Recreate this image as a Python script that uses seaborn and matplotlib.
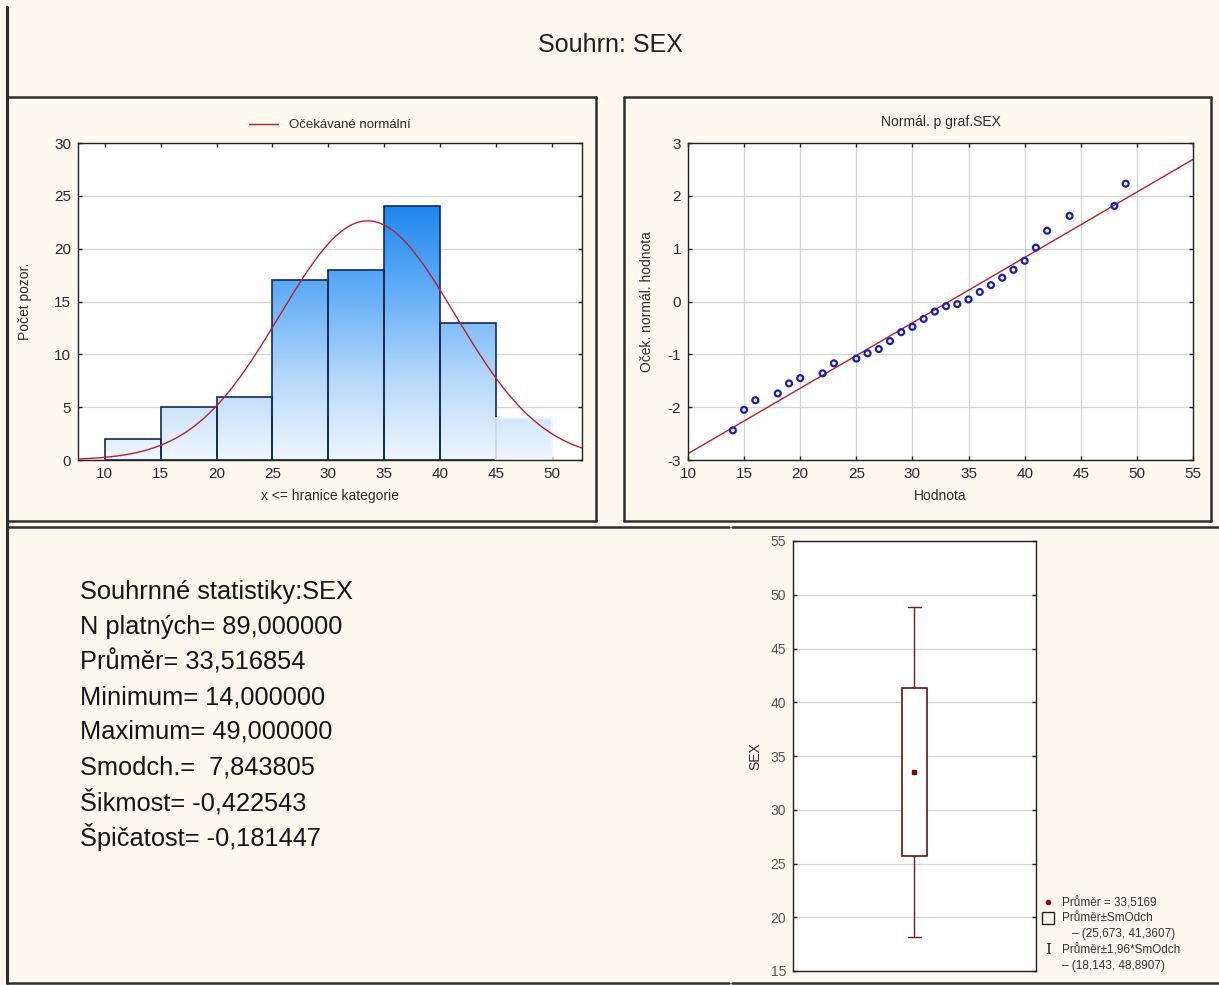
import numpy as np
import pandas as pd
import matplotlib
matplotlib.use("Agg")
import matplotlib.pyplot as plt
import seaborn as sns
from matplotlib.patches import Rectangle
from matplotlib.lines import Line2D
from matplotlib.colors import LinearSegmentedColormap

# ---------------- data ----------------
bin_edges = [10, 15, 20, 25, 30, 35, 40, 45, 50]
bin_counts = [2, 5, 6, 17, 18, 24, 13, 4]

qq_values = [14, 15, 16, 18, 19, 20, 22, 23, 25, 26, 27, 28, 29, 30, 31, 32, 33,
             34, 35, 36, 37, 38, 39, 40, 41, 42, 44, 48, 49]
qq_expected = [-2.44, -2.05, -1.87, -1.74, -1.55, -1.45, -1.36, -1.17, -1.08, -0.98,
               -0.90, -0.75, -0.58, -0.48, -0.33, -0.19, -0.09, -0.05, 0.04, 0.18,
               0.31, 0.45, 0.60, 0.77, 1.02, 1.34, 1.62, 1.81, 2.23]
qq_line_x = [10, 55]
qq_line_y = [-2.88, 2.69]

stat_labels = ["N platných", "Průměr", "Minimum", "Maximum", "Smodch.", "Šikmost", "Špičatost"]
stat_values = [89.0, 33.516854, 14.0, 49.0, 7.843805, -0.422543, -0.181447]

box_mean = 33.5169
box_lo, box_hi = 25.673, 41.3607
whisk_lo, whisk_hi = 18.143, 48.8907

# ---------------- style ----------------
sns.set_style("white")
plt.rcParams['font.family'] = ['Liberation Sans', 'DejaVu Sans']
plt.rcParams['axes.unicode_minus'] = False
BG = '#fdf9ee'
W, H = 1219, 985
fig = plt.figure(figsize=(W / 100, H / 100), dpi=100, facecolor=BG)


def axes_px(l, t, r, b):
    return fig.add_axes([l / W, 1 - b / H, (r - l) / W, (b - t) / H])


def fx(x):
    return x / W


def fy(y):
    return 1 - y / H


def hline(x0, x1, y, lw=1.8):
    fig.add_artist(Line2D([fx(x0), fx(x1)], [fy(y), fy(y)], transform=fig.transFigure,
                          color='#2e2e2e', lw=lw))


def vline(x, y0, y1, lw=1.8):
    fig.add_artist(Line2D([fx(x), fx(x)], [fy(y0), fy(y1)], transform=fig.transFigure,
                          color='#2e2e2e', lw=lw))


# panel frames
vline(7, 7, 983, lw=2.2)
for (l, t, r, b) in [(7, 97, 596, 521), (624, 97, 1211, 521)]:
    hline(l, r, t); hline(l, r, b); vline(l, t, b); vline(r, t, b)
hline(7, 729, 527); hline(7, 729, 983)
hline(732, 1219, 527); hline(732, 1219, 983)

fig.text(610 / W, fy(45), "Souhrn: SEX", ha='center', va='center', fontsize=18, color='#202020')

TICK_FS = 11
LAB_FS = 10
TXT = '#2a2a2a'


def style_axes(ax):
    ax.set_facecolor('white')
    for s in ax.spines.values():
        s.set_color('#202020'); s.set_linewidth(1.0); s.set_visible(True)
    ax.tick_params(direction='in', length=3, width=1, color='#202020', labelsize=TICK_FS,
                   labelcolor=TXT, top=True, right=True, bottom=True, left=True, pad=5)


# ---------------- histogram ----------------
ax1 = axes_px(78, 143, 582, 460)
centers = [(a + b) / 2 for a, b in zip(bin_edges[:-1], bin_edges[1:])]
hist_df = pd.DataFrame({"x": centers, "n": bin_counts})
ax1.yaxis.grid(True, color='#d4d4d4', lw=0.9)
ax1.set_axisbelow(True)
sns.histplot(data=hist_df, x="x", weights="n", bins=bin_edges, ax=ax1, stat='count',
             element='bars', fill=True, color='#3d93ee', edgecolor='#12295c', linewidth=1.2, alpha=1)
cmap = LinearSegmentedColormap.from_list('g', ['#f0f7ff', '#b3d7fb', '#62adf5', '#1f87ef'])
grad = np.linspace(0, 1, 256).reshape(-1, 1)
nb = len(ax1.patches)
for i, p in enumerate(ax1.patches):
    p.set_facecolor('none')
    im = ax1.imshow(grad, cmap=cmap, origin='lower', aspect='auto',
                    extent=(bin_edges[0], bin_edges[-1], 0, max(bin_counts)), zorder=1.5)
    im.set_clip_path(p)
    p.set_zorder(2)
    if i == nb - 1:
        p.set_edgecolor('#eef5fd')
ax1.set_xlim(7.6, 52.7)
ax1.set_ylim(0, 30)
# expected normal curve
mean, sd, n = stat_values[1], stat_values[4], stat_values[0]
bw = bin_edges[1] - bin_edges[0]
xs = np.linspace(7.6, 52.7, 300)
ys = n * bw * np.exp(-0.5 * ((xs - mean) / sd) ** 2) / (sd * np.sqrt(2 * np.pi))
sns.lineplot(x=xs, y=ys, ax=ax1, color='#b3232f', lw=1.0, label='Očekávané normální', zorder=3)
ax1.legend(loc='lower center', bbox_to_anchor=(0.5, 1.02), frameon=False, fontsize=9.5,
           handlelength=2.2, borderaxespad=0, labelcolor=TXT)
style_axes(ax1)
ax1.set_xticks(bin_edges)
ax1.set_yticks([0, 5, 10, 15, 20, 25, 30])
ax1.set_xlabel("x <= hranice kategorie", fontsize=LAB_FS, color=TXT, labelpad=6)
ax1.set_ylabel("Počet pozor.", fontsize=LAB_FS, color=TXT, labelpad=16)

# ---------------- normal probability plot ----------------
ax2 = axes_px(688, 143, 1193, 460)
ax2.grid(True, color='#d4d4d4', lw=0.9)
ax2.set_axisbelow(True)
sns.lineplot(x=qq_line_x, y=qq_line_y, ax=ax2, color='#b3232f', lw=1.0, zorder=2)
sns.scatterplot(x=qq_values, y=qq_expected, ax=ax2, marker='o', s=18,
                facecolor='none', edgecolor='#1e1ea8', linewidth=1.6, zorder=3)
ax2.set_xlim(10, 55)
ax2.set_ylim(-3, 3)
style_axes(ax2)
ax2.set_xticks(range(10, 56, 5))
ax2.set_yticks(range(-3, 4))
ax2.set_title("Normál. p graf.SEX", fontsize=LAB_FS, color=TXT, pad=12)
ax2.set_xlabel("Hodnota", fontsize=LAB_FS, color=TXT, labelpad=6)
ax2.set_ylabel("Oček. normál. hodnota", fontsize=LAB_FS, color=TXT, labelpad=10)

# ---------------- summary text ----------------
lines = ["Souhrnné statistiky:SEX"] + [f"{lab}= " + f"{val:9.6f}".replace('.', ',')
                                     for lab, val in zip(stat_labels, stat_values)]
for i, t in enumerate(lines):
    fig.text(fx(80), fy(592 + 35 * i), t, ha='left', va='center', fontsize=18.3, color='#151515')

# ---------------- box (mean / SD) plot ----------------
ax3 = axes_px(793, 541, 1036, 971)
ax3.yaxis.grid(True, color='#d4d4d4', lw=0.9)
ax3.set_axisbelow(True)
stats = [dict(med=box_mean, q1=box_lo, q3=box_hi, whislo=whisk_lo, whishi=whisk_hi,
              mean=box_mean, fliers=[])]
ax3.bxp(stats, positions=[1], widths=0.105, capwidths=0.05, showmeans=True, patch_artist=True,
        boxprops=dict(facecolor='white', edgecolor='#5c1818', lw=1.2),
        whiskerprops=dict(color='#6e1c1c', lw=1.0),
        capprops=dict(color='#6e1c1c', lw=1.0),
        medianprops=dict(lw=0),
        meanprops=dict(marker='s', markersize=3.5, markerfacecolor='#8b1010',
                       markeredgecolor='#5a0a0a'))
ax3.set_xlim(0.5, 1.5)
ax3.set_ylim(15, 55)
style_axes(ax3)
ax3.tick_params(axis='x', bottom=False, top=False, labelbottom=False)
ax3.tick_params(axis='y', labelsize=10, labelcolor='#555555')
ax3.set_yticks(range(15, 56, 5))
ax3.set_ylabel("SEX", fontsize=LAB_FS, color=TXT, labelpad=6)

# legend of the box plot
LFS = 8.5
lx = 1062
fig.add_artist(Line2D([fx(1048)], [fy(902)], transform=fig.transFigure, marker='o',
                      markersize=3, color='#8b1010', lw=0))
fig.text(fx(lx), fy(903), f"Průměr = {box_mean:.4f}".replace('.', ','), fontsize=LFS,
         va='center', color='#333333')
fig.add_artist(Rectangle((fx(1042), fy(924)), 12 / W, 12 / H, transform=fig.transFigure,
                         fill=False, ec='#202020', lw=1))
fig.text(fx(lx), fy(918), "Průměr±SmOdch", fontsize=LFS, va='center', color='#333333')
fig.text(fx(1072), fy(934), f"– ({box_lo:.3f}, {box_hi:.4f})".replace('.', ','),
         fontsize=LFS, va='center', color='#333333')
fig.text(fx(1048), fy(950), "I", fontsize=11, va='center', ha='center', color='#202020',
         family='DejaVu Serif')
fig.text(fx(lx), fy(950), "Průměr±1,96*SmOdch", fontsize=LFS, va='center', color='#333333')
fig.text(fx(lx), fy(966), f"– ({whisk_lo:.3f}, {whisk_hi:.4f})".replace('.', ','),
         fontsize=LFS, va='center', color='#333333')

fig.savefig("out.png", dpi=100, facecolor=BG)
